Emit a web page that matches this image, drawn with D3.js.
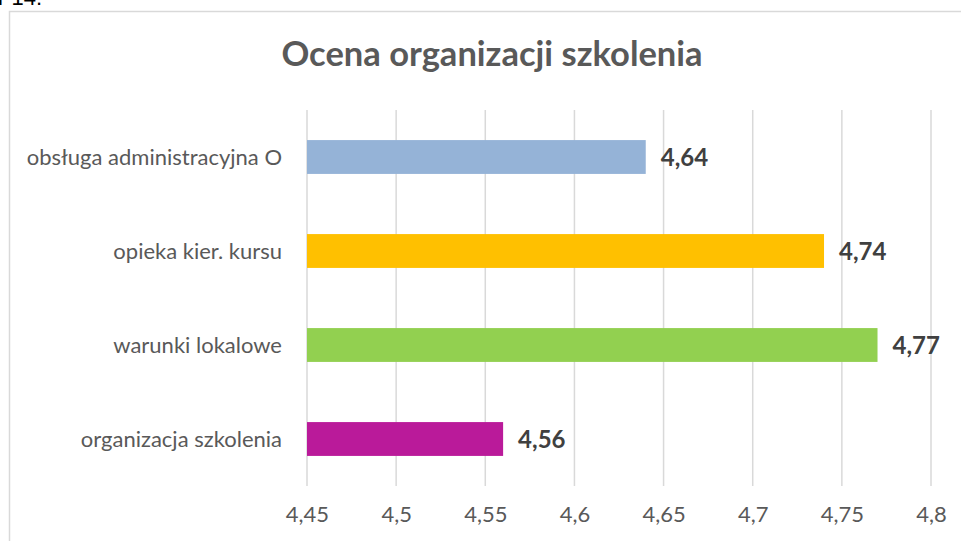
<!DOCTYPE html>
<html><head><meta charset="utf-8">
<script src="https://cdn.jsdelivr.net/npm/d3@7"></script>
<style>body{margin:0;background:#fff}svg{display:block}</style>
</head><body>
<svg id="c" width="961" height="541"></svg>
<script>
const categories = ["obsługa administracyjna O", "opieka kier. kursu", "warunki lokalowe", "organizacja szkolenia"];
const values = [4.64, 4.74, 4.77, 4.56];
const colors = ["#95B3D7", "#FFC000", "#92D050", "#BA1A9A"];
const ticks = [4.45, 4.5, 4.55, 4.6, 4.65, 4.7, 4.75, 4.8];
const title = "Ocena organizacji szkolenia";

const svg = d3.select("#c");
const font = "Lato, Calibri, sans-serif";
const fmt = v => String(v).replace(".", ",");

// fragment of surrounding document text
svg.append("text").attr("x", -2).attr("y", 5).attr("font-family", "'Liberation Sans', sans-serif")
  .attr("font-size", 22).attr("fill", "#000").text("r 14.");

// chart area border
svg.append("rect").attr("x", 9.5).attr("y", 11.5).attr("width", 1000).attr("height", 600)
  .attr("fill", "#fff").attr("stroke", "#d9d9d9").attr("stroke-width", 1.5);

const x = d3.scaleLinear().domain([4.45, 4.8]).range([307, 931]);
const y = d3.scaleBand().domain(categories).range([110, 486]).paddingInner(0.64).paddingOuter(0.32);

// gridlines
svg.append("g").selectAll("line").data(ticks).join("line")
  .attr("x1", d => x(d)).attr("x2", d => x(d)).attr("y1", 110).attr("y2", 486)
  .attr("stroke", "#d9d9d9").attr("stroke-width", 1.5);

// bars
svg.append("g").selectAll("rect").data(categories).join("rect")
  .attr("x", x(4.45)).attr("y", d => y(d))
  .attr("width", (d, i) => x(values[i]) - x(4.45)).attr("height", y.bandwidth())
  .attr("fill", (d, i) => colors[i]);

// value labels
svg.append("g").selectAll("text").data(categories).join("text")
  .attr("x", (d, i) => x(values[i]) + 15).attr("y", d => y(d) + y.bandwidth() / 2)
  .attr("dy", "0.36em").attr("font-family", font).attr("font-weight", "bold")
  .attr("font-size", 24).attr("fill", "#404040").text((d, i) => fmt(values[i]));

// category labels
svg.append("g").selectAll("text").data(categories).join("text")
  .attr("x", 282).attr("y", d => y(d) + y.bandwidth() / 2).attr("dy", "0.36em")
  .attr("text-anchor", "end").attr("font-family", font).attr("font-size", 22)
  .attr("fill", "#595959").text(d => d);

// x axis tick labels
const ax = svg.append("g").attr("transform", "translate(0,486)")
  .call(d3.axisBottom(x).tickValues(ticks).tickFormat(fmt).tickSize(0).tickPadding(20));
ax.select(".domain").remove();
ax.selectAll("text").attr("font-family", font).attr("font-size", 22).attr("fill", "#595959");

// title
svg.append("text").attr("x", 492).attr("y", 66).attr("text-anchor", "middle")
  .attr("font-family", font).attr("font-weight", "bold").attr("font-size", 34.5)
  .attr("fill", "#595959").text(title);
</script>
</body></html>
